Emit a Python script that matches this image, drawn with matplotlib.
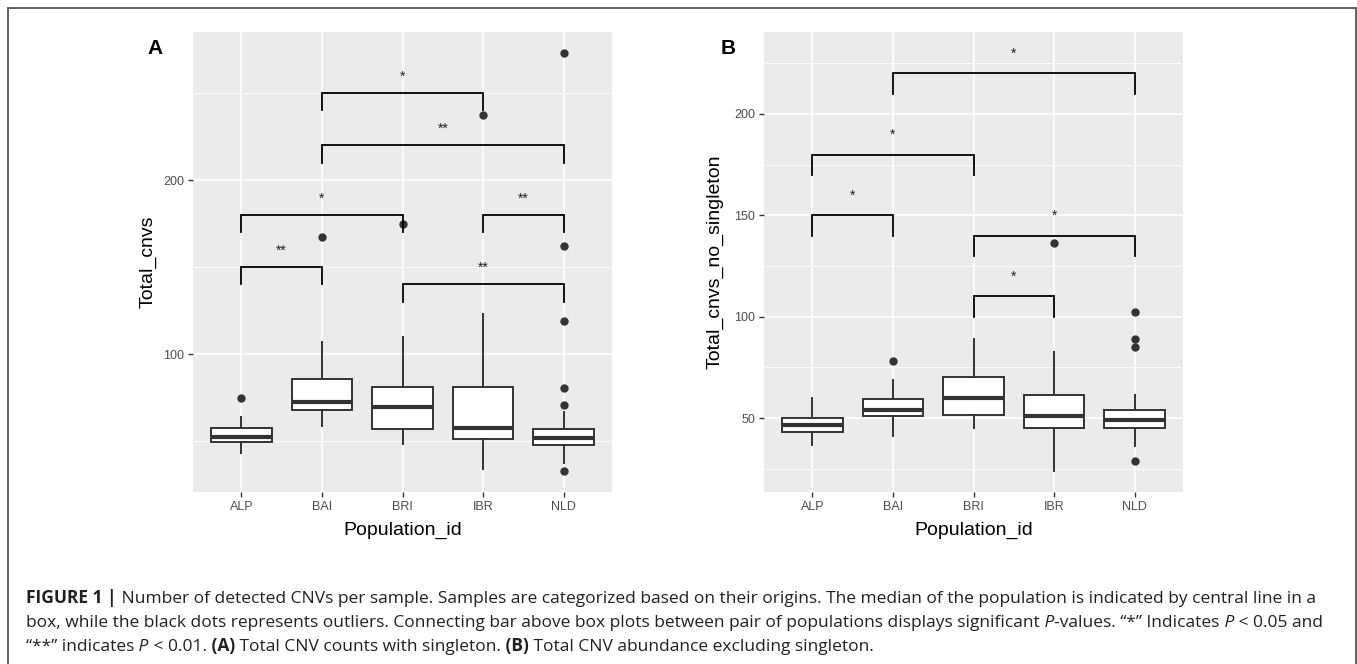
import numpy as np
import matplotlib
matplotlib.use("Agg")
import matplotlib.pyplot as plt
from matplotlib.patches import Rectangle

plt.rcParams['font.family'] = ['Liberation Sans', 'DejaVu Sans']

# DATA
populations = ['ALP', 'BAI', 'BRI', 'IBR', 'NLD']

# panel A : Total_cnvs
a_q1 = [49.4, 67.8, 56.9, 51.0, 47.7]
a_med = [52.1, 72.2, 69.3, 57.6, 51.7]
a_q3 = [57.7, 85.6, 80.9, 81.0, 56.7]
a_lo = [42.9, 58.8, 48.1, 33.7, 37.5]
a_hi = [63.6, 106.7, 109.9, 122.8, 66.5]
a_fliers = [[74.7], [167.1], [174.9], [237.2], [32.6, 70.7, 80.6, 119.0, 162.1, 273.2]]
a_pairs = [(1, 2), (1, 3), (4, 5), (3, 5), (2, 5), (2, 4)]
a_bar_y = [150, 180, 180, 140, 220, 250]
a_signif = ['**', '*', '**', '**', '**', '*']

# panel B : Total_cnvs_no_singleton
b_q1 = [43.1, 51.0, 51.8, 45.4, 45.1]
b_med = [46.8, 54.2, 60.1, 51.1, 49.2]
b_q3 = [50.3, 59.5, 70.2, 61.5, 54.2]
b_lo = [36.8, 41.1, 45.1, 24.2, 36.2]
b_hi = [60.0, 69.0, 89.1, 82.8, 61.6]
b_fliers = [[], [78.1], [], [136.2], [29.0, 85.1, 89.1, 102.2]]
b_pairs = [(1, 2), (1, 3), (3, 5), (3, 4), (2, 5)]
b_bar_y = [150, 180, 140, 110, 220]
b_signif = ['*', '*', '*', '*', '*']

DARK = '#333333'
W, H = 1357, 664
fig = plt.figure(figsize=(W / 100, H / 100), dpi=100)
fig.patch.set_facecolor('white')


def px_axes(left, right, top, bottom):
    return fig.add_axes([left / W, 1 - bottom / H, (right - left) / W, (bottom - top) / H])


def draw_panel(ax, q1, med, q3, lo, hi, fliers, pairs, bar_y, signif,
               ylim, major, minor, ylabel, ylabel_x):
    stats = []
    for i in range(len(populations)):
        stats.append(dict(q1=q1[i], med=med[i], q3=q3[i], whislo=lo[i], whishi=hi[i],
                          fliers=fliers[i], label=populations[i]))
    pos = np.arange(1, len(populations) + 1)
    ax.set_facecolor('#EBEBEB')
    ax.set_axisbelow(True)
    ax.bxp(stats, positions=pos, widths=0.75, showcaps=False, patch_artist=True,
           boxprops=dict(facecolor='white', edgecolor=DARK, linewidth=1.4),
           medianprops=dict(color=DARK, linewidth=3, solid_capstyle='butt'),
           whiskerprops=dict(color=DARK, linewidth=1.4),
           flierprops=dict(marker='o', markerfacecolor=DARK, markeredgecolor=DARK,
                           markersize=5, linestyle='none'))
    # significance brackets
    tip = 10
    for (x1, x2), y, s in zip(pairs, bar_y, signif):
        ax.plot([x1, x1, x2, x2], [y - tip, y, y, y - tip], color='black', lw=1.3,
                solid_joinstyle='miter', zorder=4)
        ax.annotate(s, xy=((x1 + x2) / 2, y + 11), xytext=(0, -5), textcoords='offset points',
                    ha='center', va='baseline', fontsize=10, color='#222222')
    ax.set_xlim(0.4, len(populations) + 0.6)
    ax.set_ylim(*ylim)
    ax.set_xticks(pos)
    ax.set_xticklabels(populations)
    ax.set_yticks(major)
    ax.set_yticks(minor, minor=True)
    ax.grid(True, which='major', color='white', lw=1.1)
    ax.grid(True, which='minor', color='white', lw=0.55)
    ax.tick_params(axis='both', which='major', length=3.5, width=1, color=DARK,
                   labelcolor='#4D4D4D', labelsize=9, pad=3)
    ax.tick_params(axis='y', which='minor', length=0)
    for sp in ax.spines.values():
        sp.set_visible(False)
    ax.set_xlabel('Population_id', fontsize=14, va='center')
    ax.xaxis.set_label_coords(0.5, -0.083)
    ax.set_ylabel(ylabel, fontsize=14, va='center')
    ax.yaxis.set_label_coords(ylabel_x, 0.5)


ax_a = px_axes(193, 612, 32, 492)
draw_panel(ax_a, a_q1, a_med, a_q3, a_lo, a_hi, a_fliers, a_pairs, a_bar_y, a_signif,
           (20.7, 285.1), [100, 200], [50, 150, 250], 'Total_cnvs', -0.108)

ax_b = px_axes(764, 1183, 32, 492)
draw_panel(ax_b, b_q1, b_med, b_q3, b_lo, b_hi, b_fliers, b_pairs, b_bar_y, b_signif,
           (13.6, 240.4), [50, 100, 150, 200], [25, 75, 125, 175, 225],
           'Total_cnvs_no_singleton', -0.117)

fig.text(155 / W, 1 - 48 / H, 'A', fontsize=15, fontweight='bold', ha='center', va='center')
fig.text(728 / W, 1 - 48 / H, 'B', fontsize=15, fontweight='bold', ha='center', va='center')

# frame around the figure (bottom edge runs off the image)
fig.patches.append(Rectangle((8 / W, -0.1), (1356 - 8) / W, 1.1 - 8 / H, transform=fig.transFigure,
                             fill=False, edgecolor='#555555', lw=1.3))

# caption with mixed styles
renderer = fig.canvas.get_renderer()
CAP_FONT = ['Open Sans', 'Liberation Sans', 'DejaVu Sans']

n, b, i = ('normal', 'normal'), ('bold', 'normal'), ('normal', 'italic')
lines = [
    [('FIGURE 1 |',) + b,
     (' Number of detected CNVs per sample. Samples are categorized based on their origins. '
      'The median of the population is indicated by central line in a',) + n],
    [('box, while the black dots represents outliers. Connecting bar above box plots between '
      'pair of populations displays significant',) + n, (' P',) + i,
     ('-values. \u201c*\u201d Indicates',) + n, (' P',) + i, (' < 0.05 and',) + n],
    [('\u201c**\u201d indicates',) + n, (' P',) + i, (' < 0.01.',) + n, (' (A)',) + b,
     (' Total CNV counts with singleton.',) + n, (' (B)',) + b,
     (' Total CNV abundance excluding singleton.',) + n],
]


def rich_line(x_px, y_px, segments, size, draw=True):
    x = x_px
    for txt, weight, style in segments:
        t = fig.text(x / W, 1 - y_px / H, txt, fontsize=size, fontweight=weight, family=CAP_FONT,
                     fontstyle=style, ha='left', va='baseline', color='#231F20')
        x += t.get_window_extent(renderer).width
        if not draw:
            t.remove()
    return x


# pick the caption size so that the first line spans the same width as in the figure
probe = rich_line(26, 603, lines[0], 10, draw=False) - 26
cap_size = 10 * (1310 - 26) / probe

for k, segs in enumerate(lines):
    rich_line(26, 603 + 24 * k, segs, cap_size)

fig.savefig('out.png', dpi=100)
